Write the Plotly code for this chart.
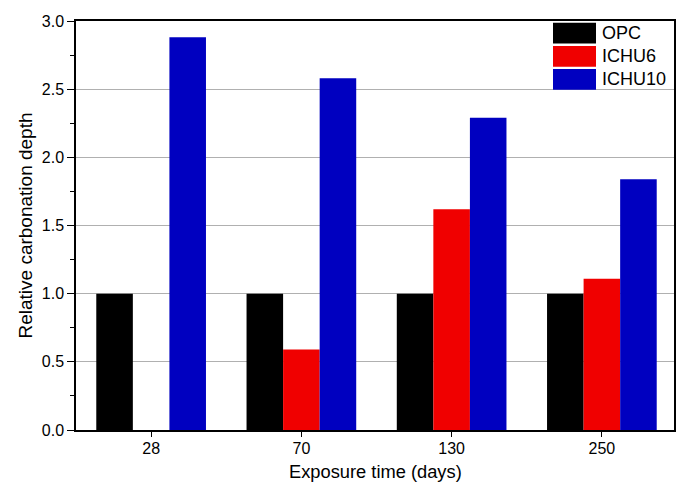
import plotly.graph_objects as go

categories = ["28", "70", "130", "250"]
series_names = ["OPC", "ICHU6", "ICHU10"]
opc = [1.0, 1.0, 1.0, 1.0]
ichu6 = [0.0, 0.59, 1.62, 1.11]
ichu10 = [2.88, 2.58, 2.29, 1.84]
colors = ["#000000", "#F00000", "#0000C0"]
y_ticks = [0.0, 0.5, 1.0, 1.5, 2.0, 2.5, 3.0]
x_title = "Exposure time (days)"
y_title = "Relative carbonation depth"

FONT = "Liberation Sans, Arial, sans-serif"

fig = go.Figure()
for name, vals, col in zip(series_names, [opc, ichu6, ichu10], colors):
    fig.add_trace(go.Bar(
        x=categories, y=vals, name=name,
        marker=dict(color=col, line=dict(width=0)),
        showlegend=False,
    ))

# Large-swatch legend in the upper-right corner of the plot area
L, R, T, B = 76, 674, 21, 430
W, H = R - L, B - T
def px(x):
    return (x - L) / W
def py(y):
    return (B - y) / H

row_tops = [22.7, 46.0, 69.0]
row_h = 20.7
for name, col, top in zip(series_names, colors, row_tops):
    fig.add_shape(type="rect", xref="paper", yref="paper",
                  x0=px(553), x1=px(596), y0=py(top + row_h), y1=py(top),
                  fillcolor=col, line=dict(width=0), layer="above")
    fig.add_annotation(xref="paper", yref="paper", x=px(600), y=py(top + row_h / 2),
                       text=name, showarrow=False, xanchor="left", yanchor="middle",
                       font=dict(family=FONT, size=18, color="#000000"))

# x-axis title, kept just inside the bottom edge
fig.add_annotation(xref="paper", yref="paper", x=0.5, y=py(483),
                   text=x_title, showarrow=False, xanchor="center", yanchor="bottom",
                   borderpad=0,
                   font=dict(family=FONT, size=18.3, color="#000000"))

fig.update_layout(
    width=683, height=483,
    margin=dict(l=L, r=683 - R, t=T, b=483 - B),
    plot_bgcolor="white", paper_bgcolor="white",
    barmode="group", bargap=0.27, bargroupgap=0.0,
    font=dict(family=FONT, size=16, color="#000000"),
)
fig.update_xaxes(
    range=[-0.5, 3.48], automargin=False,
    showline=True, linecolor="#000000", linewidth=1.5, mirror=True,
    ticks="outside", ticklen=5, tickwidth=1.2, tickcolor="#000000",
    ticklabelstandoff=-2,
    showgrid=False, zeroline=False,
    tickfont=dict(family=FONT, size=16),
)
fig.update_yaxes(
    range=[0, 3.0], automargin=False,
    tickvals=y_ticks, ticktext=[f"{v:.1f}" for v in y_ticks],
    showline=True, linecolor="#000000", linewidth=1.5, mirror=True,
    ticks="outside", ticklen=7, tickwidth=1.2, tickcolor="#000000",
    ticklabelstandoff=0,
    minor=dict(dtick=0.25, tick0=0, ticks="outside", ticklen=4, tickwidth=1.2,
               tickcolor="#000000", showgrid=False),
    showgrid=True, gridcolor="#B0B0B0", gridwidth=1,
    zeroline=False,
    tickfont=dict(family=FONT, size=16),
    title=dict(text=y_title, font=dict(family=FONT, size=19), standoff=4),
)

fig.write_html("out.html")
